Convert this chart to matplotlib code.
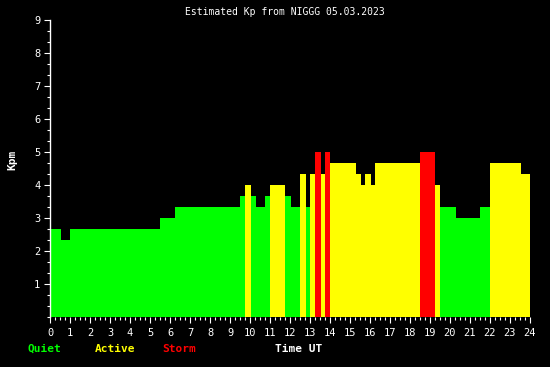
import numpy as np
import matplotlib
matplotlib.use("Agg")
import matplotlib.pyplot as plt
from matplotlib.ticker import MultipleLocator

# time boundaries (hours UT) of each Kp step and the Kp value of that step
edges = [0, 0.55, 1.0, 5.5, 6.25, 9.5, 9.75, 10.05, 10.3, 10.75, 11.0, 11.75,
         12.05, 12.5, 12.8, 13.0, 13.25, 13.55, 13.75, 14.0, 15.3, 15.55, 15.75,
         16.05, 16.25, 18.5, 19.25, 19.5, 20.3, 21.5, 22.0, 23.55, 24.0]
kp = [2.667, 2.333, 2.667, 3.0, 3.333, 3.667, 4.0, 3.667, 3.333, 3.667, 4.0,
      3.667, 3.333, 4.333, 3.333, 4.333, 5.0, 4.333, 5.0, 4.667, 4.333, 4.0,
      4.333, 4.0, 4.667, 5.0, 4.0, 3.333, 3.0, 3.333, 4.667, 4.333]
hour_ticks = list(range(0, 25))
kp_ticks = list(range(1, 10))
title = "Estimated Kp from NIGGG 05.03.2023"

GREEN = "#00ff00"
YELLOW = "#ffff00"
RED = "#ff0000"


def kp_color(v):
    if v < 4:
        return GREEN
    if v < 5:
        return YELLOW
    return RED


W, H = 550, 367
fig = plt.figure(figsize=(W / 100, H / 100), dpi=100, facecolor="black")
ax = fig.add_axes([50 / W, 50 / H, 480 / W, 297 / H], facecolor="black")

starts = np.array(edges[:-1])
widths = np.diff(edges)
ax.bar(starts, kp, width=widths, align="edge",
       color=[kp_color(v) for v in kp], linewidth=0)

ax.set_xlim(0, 24)
ax.set_ylim(0, 9)

mono = "DejaVu Sans Mono"
ax.set_xticks(hour_ticks)
ax.set_xticklabels([str(h) for h in hour_ticks], family=mono, fontsize=7.5)
ax.set_yticks(kp_ticks)
ax.set_yticklabels([str(k) for k in kp_ticks], family=mono, fontsize=7.5)
ax.xaxis.set_minor_locator(MultipleLocator(0.25))
ax.yaxis.set_minor_locator(MultipleLocator(1 / 3))
ax.tick_params(axis="both", which="major", colors="white", length=4, width=0.8)
ax.tick_params(axis="both", which="minor", colors="white", length=2.5, width=0.8)
ax.tick_params(axis="x", which="major", pad=4)
ax.tick_params(axis="y", which="major", pad=3)

for s in ["top", "right", "bottom"]:
    ax.spines[s].set_visible(False)
ax.spines["left"].set_color("white")
ax.spines["left"].set_linewidth(1)


def px_text(x, y, s, **kw):
    fig.text(x / W, 1 - y / H, s, family=mono, **kw)


px_text(284.5, 12, title, color="white", fontsize=7, ha="center", va="center")
px_text(12, 160, "Kpm", color="white", fontsize=8, weight="bold",
        rotation=90, ha="center", va="center")
px_text(28, 349, "Quiet", color=GREEN, fontsize=8, weight="bold", va="center")
px_text(95, 349, "Active", color=YELLOW, fontsize=8, weight="bold", va="center")
px_text(162, 349, "Storm", color=RED, fontsize=8, weight="bold", va="center")
px_text(275, 349, "Time UT", color="white", fontsize=8, weight="bold", va="center")

fig.savefig("out.png", dpi=100, facecolor="black")
